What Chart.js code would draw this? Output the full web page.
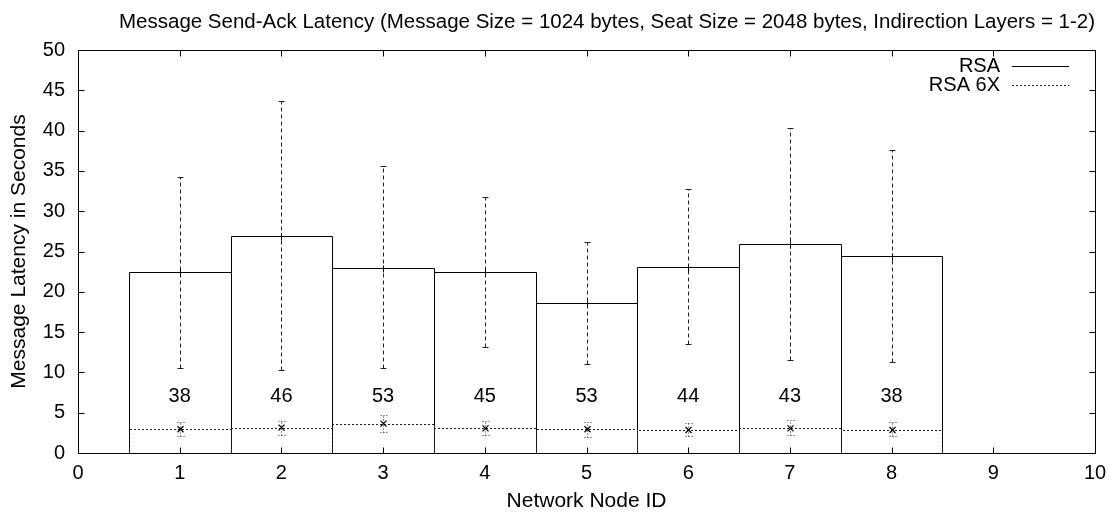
<!DOCTYPE html>
<html>
<head>
<meta charset="utf-8">
<title>Message Send-Ack Latency</title>
<script src="https://cdn.jsdelivr.net/npm/chart.js@4.4.1/dist/chart.umd.min.js"></script>
<style>
  html, body { margin: 0; padding: 0; background: #ffffff; }
  #frame { position: relative; width: 1109px; height: 514px; }
</style>
</head>
<body>
<div id="frame"><canvas id="latency" width="1109" height="514"></canvas></div>
<script>
// Per-node latency figures (seconds)
const nodeIds   = [1, 2, 3, 4, 5, 6, 7, 8];
const rsaMean   = [22.4, 26.9, 23.0, 22.4, 18.6, 23.1, 25.9, 24.4];
const rsaLow    = [10.5, 10.3, 10.5, 13.2, 11.0, 13.5, 11.5, 11.3];
const rsaHigh   = [34.2, 43.7, 35.6, 31.8, 26.2, 32.8, 40.3, 37.6];
const rsa6xMean = [2.95, 3.15, 3.65, 3.05, 2.95, 2.85, 3.05, 2.85];
const rsa6xLow  = [2.1, 2.25, 2.65, 2.25, 2.0, 2.1, 2.25, 2.1];
const rsa6xHigh = [3.8, 4.0, 4.7, 4.0, 3.8, 3.7, 4.1, 3.8];
const nodeCounts = [38, 46, 53, 45, 53, 44, 43, 38];
const countLabelLevel = 7;

const xTickValues = [0, 1, 2, 3, 4, 5, 6, 7, 8, 9, 10];
const yTickValues = [0, 5, 10, 15, 20, 25, 30, 35, 40, 45, 50];

const seriesNames = ['RSA', 'RSA 6X'];
const chartTitle = 'Message Send-Ack Latency (Message Size = 1024 bytes, Seat Size = 2048 bytes, Indirection Layers = 1-2)';
const xTitle = 'Network Node ID';
const yTitle = 'Message Latency in Seconds';

const FAMILY = "'Liberation Sans', Arial, Helvetica, sans-serif";
const FONT_SIZE = 20;
const font = { family: FAMILY, size: FONT_SIZE, weight: 'normal' };
const titleFont = { family: FAMILY, size: 20.5, weight: 'normal' };
const axisTitleFont = { family: FAMILY, size: 21, weight: 'normal' };

function line(ctx, x1, y1, x2, y2) {
  ctx.beginPath();
  ctx.moveTo(x1, y1);
  ctx.lineTo(x2, y2);
  ctx.stroke();
}
const crisp = v => Math.round(v) + 0.5;

// Boxes, error bars, markers, count labels, frame, inward ticks and key
const latencyPlugin = {
  id: 'latencyDecor',
  afterDatasetsDraw(chart) {
    const { ctx, scales: { x, y } } = chart;
    ctx.save();
    ctx.lineWidth = 1;

    // RSA boxes (solid outline)
    ctx.strokeStyle = '#000';
    ctx.setLineDash([]);
    chart.getDatasetMeta(0).data.forEach(bar => {
      const l = crisp(bar.x - bar.width / 2), r = crisp(bar.x + bar.width / 2);
      const t = crisp(bar.y), b = bar.base;
      ctx.beginPath();
      ctx.moveTo(l, b); ctx.lineTo(l, t); ctx.lineTo(r, t); ctx.lineTo(r, b);
      ctx.stroke();
    });

    // RSA 6X boxes (dotted outline)
    ctx.strokeStyle = '#222';
    ctx.setLineDash([2, 2]);
    chart.getDatasetMeta(1).data.forEach(bar => {
      const l = crisp(bar.x - bar.width / 2), r = crisp(bar.x + bar.width / 2);
      const t = crisp(bar.y), b = bar.base;
      ctx.beginPath();
      ctx.moveTo(l, b); ctx.lineTo(l, t); ctx.lineTo(r, t); ctx.lineTo(r, b);
      ctx.stroke();
    });

    // RSA error bars (dashed) with caps and "+" at the mean
    nodeIds.forEach((n, i) => {
      const cx = crisp(x.getPixelForValue(n));
      const yl = crisp(y.getPixelForValue(rsaLow[i]));
      const yh = crisp(y.getPixelForValue(rsaHigh[i]));
      const ym = crisp(y.getPixelForValue(rsaMean[i]));
      ctx.strokeStyle = '#222';
      ctx.setLineDash([4, 3]);
      line(ctx, cx, yl, cx, yh);
      ctx.setLineDash([]);
      line(ctx, cx - 3, yl, cx + 3, yl);
      line(ctx, cx - 3, yh, cx + 3, yh);
      ctx.strokeStyle = '#000';
      line(ctx, cx - 3, ym, cx + 4, ym);
      line(ctx, cx, ym - 3, cx, ym + 4);
    });

    // RSA 6X error bars (dotted) with caps and "x" at the mean
    nodeIds.forEach((n, i) => {
      const cx = crisp(x.getPixelForValue(n));
      const yl = crisp(y.getPixelForValue(rsa6xLow[i]));
      const yh = crisp(y.getPixelForValue(rsa6xHigh[i]));
      const ym = y.getPixelForValue(rsa6xMean[i]);
      ctx.strokeStyle = '#333';
      ctx.setLineDash([1, 2]);
      line(ctx, cx, yl, cx, yh);
      line(ctx, cx - 3, yl, cx + 4, yl);
      line(ctx, cx - 3, yh, cx + 4, yh);
      ctx.setLineDash([]);
      ctx.strokeStyle = '#000';
      ctx.lineWidth = 1.2;
      line(ctx, cx - 3, ym - 3, cx + 3, ym + 3);
      line(ctx, cx - 3, ym + 3, cx + 3, ym - 3);
      ctx.lineWidth = 1;
    });

    // Counts written inside each box
    ctx.fillStyle = '#000';
    ctx.font = `${FONT_SIZE}px ${FAMILY}`;
    ctx.textAlign = 'center';
    ctx.textBaseline = 'middle';
    nodeIds.forEach((n, i) => {
      ctx.fillText(String(nodeCounts[i]), x.getPixelForValue(n), y.getPixelForValue(countLabelLevel));
    });
    ctx.restore();
  },
  afterDraw(chart) {
    const { ctx, chartArea: a, scales: { x, y } } = chart;
    ctx.save();
    ctx.strokeStyle = '#000';
    ctx.lineWidth = 1;
    ctx.setLineDash([]);
    const L = crisp(a.left), R = crisp(a.right), T = crisp(a.top), B = crisp(a.bottom);
    ctx.strokeRect(L, T, R - L, B - T);

    // inward, mirrored ticks
    const tick = 6;
    xTickValues.forEach(v => {
      const px = crisp(x.getPixelForValue(v));
      line(ctx, px, B, px, B - tick);
      line(ctx, px, T, px, T + tick);
    });
    yTickValues.forEach(v => {
      const py = crisp(y.getPixelForValue(v));
      line(ctx, L, py, L + tick, py);
      line(ctx, R, py, R - tick, py);
    });

    // key, top right inside the frame
    ctx.fillStyle = '#000';
    ctx.font = `${FONT_SIZE}px ${FAMILY}`;
    ctx.textAlign = 'right';
    ctx.textBaseline = 'middle';
    const textRight = a.right - 95, sx1 = a.right - 83, sx2 = a.right - 26;
    const rows = [a.top + 16, a.top + 35];
    const dashes = [[], [2, 2]];
    seriesNames.forEach((name, k) => {
      ctx.fillText(name, textRight, rows[k]);
      ctx.setLineDash(dashes[k]);
      ctx.strokeStyle = k === 0 ? '#000' : '#222';
      line(ctx, sx1, crisp(rows[k]), sx2, crisp(rows[k]));
    });
    ctx.restore();
  }
};

new Chart(document.getElementById('latency'), {
  type: 'bar',
  data: {
    datasets: [
      {
        label: seriesNames[0],
        data: nodeIds.map((n, i) => ({ x: n, y: rsaMean[i] })),
        backgroundColor: 'rgba(0,0,0,0)',
        borderWidth: 0,
        grouped: false,
        barPercentage: 1,
        categoryPercentage: 1
      },
      {
        label: seriesNames[1],
        data: nodeIds.map((n, i) => ({ x: n, y: rsa6xMean[i] })),
        backgroundColor: 'rgba(0,0,0,0)',
        borderWidth: 0,
        grouped: false,
        barPercentage: 1,
        categoryPercentage: 1
      }
    ]
  },
  options: {
    responsive: false,
    animation: false,
    events: [],
    layout: { padding: { top: 0, right: 14, bottom: 0, left: 0 } },
    plugins: {
      legend: { display: false },
      tooltip: { enabled: false },
      title: {
        display: true,
        text: chartTitle,
        fullSize: false,
        align: 'end',
        color: '#000',
        font: titleFont,
        padding: { top: 10, bottom: 15.4 }
      }
    },
    scales: {
      x: {
        type: 'linear',
        min: 0,
        max: 10,
        offset: false,
        afterBuildTicks: s => { s.ticks = xTickValues.map(v => ({ value: v })); },
        afterFit: s => { s.height = 61; s.paddingLeft = 0; s.paddingRight = 0; },
        grid: { display: false, drawTicks: false },
        border: { display: false },
        ticks: { color: '#000', font: font, padding: 8, maxRotation: 0, autoSkip: false },
        title: { display: true, text: xTitle, color: '#000', font: axisTitleFont, padding: { top: 0, bottom: 0 } }
      },
      y: {
        type: 'linear',
        min: 0,
        max: 50,
        afterBuildTicks: s => { s.ticks = yTickValues.map(v => ({ value: v })); },
        afterFit: s => { s.width = 78; s.paddingTop = 0; s.paddingBottom = 0; },
        grid: { display: false, drawTicks: false },
        border: { display: false },
        ticks: { color: '#000', font: font, padding: 13, autoSkip: false },
        title: { display: true, text: yTitle, color: '#000', font: axisTitleFont, padding: { top: 7, bottom: 0 } }
      }
    }
  },
  plugins: [latencyPlugin]
});
</script>
</body>
</html>
